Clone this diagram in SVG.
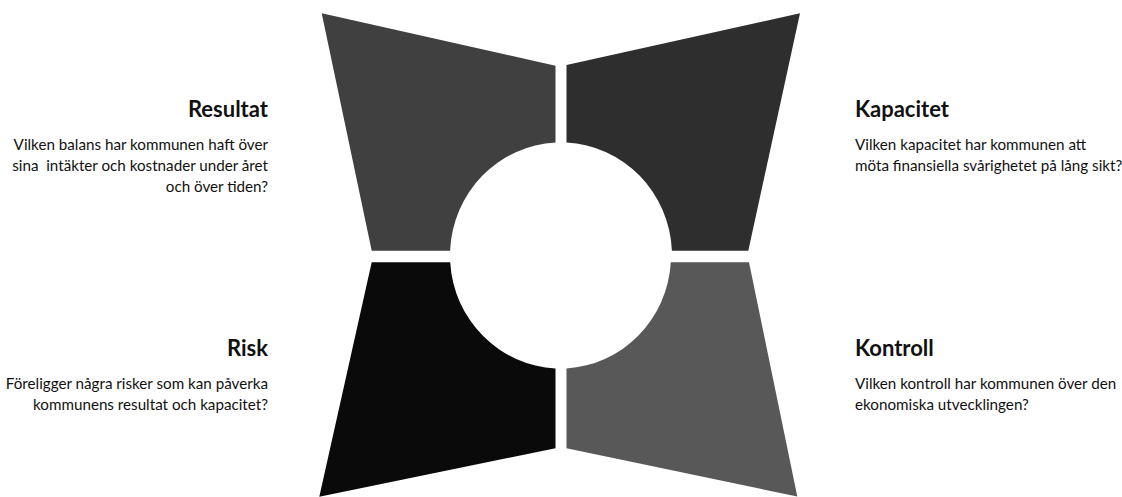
<svg xmlns="http://www.w3.org/2000/svg" width="1122" height="497" viewBox="0 0 1122 497">
<style>
.t{font-family:Lato,"Liberation Sans",sans-serif;font-weight:bold;font-size:22px;fill:#111}
.b{font-family:Lato,"Liberation Sans",sans-serif;font-size:15.2px;fill:#111;white-space:pre}
.r{text-anchor:end}
</style>
<rect width="1122" height="497" fill="#fff"/>
<g id="resultat">
<path d="M321.7,13.3 L555.5,65.7 L555.5,142.6 A111,113 0 0 0 450.1,250.7 L371.7,250.7 Z" fill="#404040"/>
<text class="t r" x="268" y="117">Resultat</text>
<text class="b r" x="268" y="150">Vilken balans har kommunen haft över</text>
<text class="b r" x="268" y="171">sina  intäkter och kostnader under året</text>
<text class="b r" x="268" y="192">och över tiden?</text>
</g>
<g id="kapacitet">
<path d="M566.5,65 L800,13.3 L748.3,250.7 L671.9,250.7 A111,113 0 0 0 566.5,142.6 Z" fill="#2e2e2e"/>
<text class="t" x="855" y="117">Kapacitet</text>
<text class="b" x="855" y="150">Vilken kapacitet har kommunen att</text>
<text class="b" x="855" y="171">möta finansiella svårighetet på lång sikt?</text>
</g>
<g id="risk">
<path d="M371.7,262.3 L450.2,262.3 A111,113 0 0 0 555.5,368.4 L555.5,448.3 L319.3,496.7 Z" fill="#0a0a0a"/>
<text class="t r" x="268" y="356">Risk</text>
<text class="b r" x="268" y="389">Föreligger några risker som kan påverka</text>
<text class="b r" x="268" y="410">kommunens resultat och kapacitet?</text>
</g>
<g id="kontroll">
<path d="M670.8,262.3 L749,262.3 L797.3,496.5 L566.5,448.3 L566.5,368.4 A111,113 0 0 0 670.8,262.3 Z" fill="#585858"/>
<text class="t" x="855" y="356">Kontroll</text>
<text class="b" x="855" y="389">Vilken kontroll har kommunen över den</text>
<text class="b" x="855" y="410">ekonomiska utvecklingen?</text>
</g>
<g id="connectors"/>
</svg>
